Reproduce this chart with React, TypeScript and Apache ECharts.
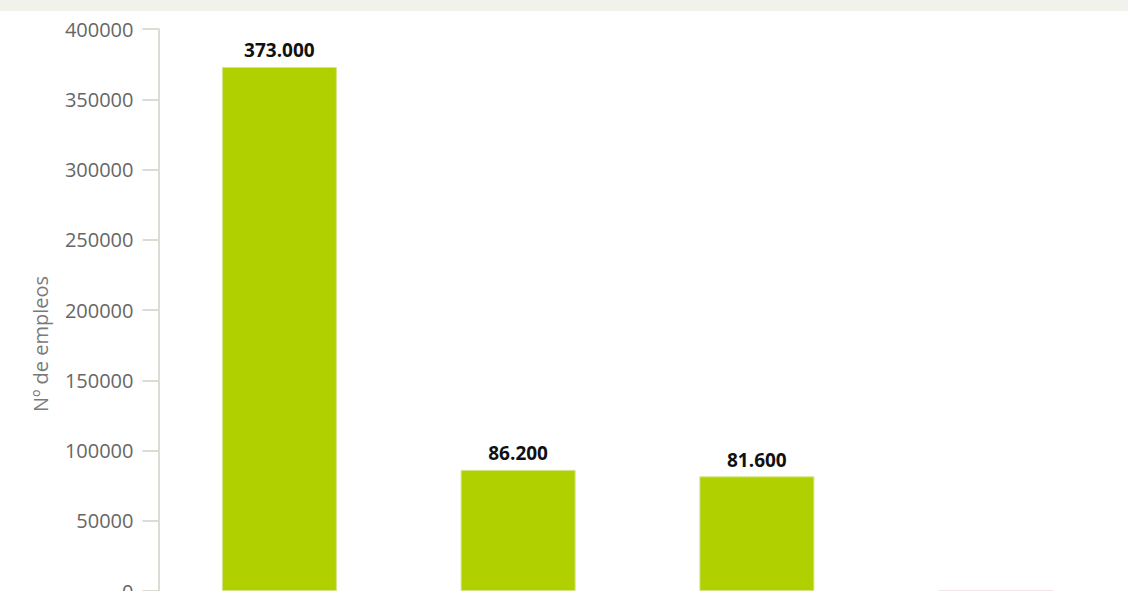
import React, { useEffect, useRef } from "react";
import * as echarts from "echarts";

const categories = ["A", "B", "C", "D"];
const values = [373000, 86200, 81600, 700];
const valueLabels = ["373.000", "86.200", "81.600", ""];
const barColors = ["#b1d000", "#b1d000", "#b1d000", "#f6eeee"];
const yAxisName = "Nº de empleos";

export default function App() {
  const ref = useRef<HTMLDivElement>(null);
  useEffect(() => {
    if (!ref.current) return;
    const chart = echarts.init(ref.current, undefined, { renderer: "svg" });
    chart.setOption({
      animation: false,
      backgroundColor: "#ffffff",
      graphic: [
        { type: "rect", left: 0, top: 0, shape: { width: 1128, height: 11 }, style: { fill: "#f2f2ec" } },
        {
          type: "text",
          x: 40,
          y: 344,
          rotation: Math.PI / 2,
          style: {
            text: yAxisName,
            fill: "#7a7a7a",
            fontSize: 20,
            fontFamily: "Open Sans",
            textAlign: "center",
            textVerticalAlign: "middle",
          },
        },
      ],
      grid: { left: 160, right: 13, top: 29, bottom: 0, containLabel: false, outerBoundsMode: "none" },
      xAxis: {
        type: "category",
        data: categories,
        axisLine: { show: false },
        axisTick: { show: false },
        axisLabel: { show: false },
      },
      yAxis: {
        type: "value",
        min: 0,
        max: 400000,
        interval: 50000,
        offset: 1.5,
        axisLine: { show: true, lineStyle: { color: "#dcdcd4", width: 2 } },
        axisTick: { show: true, inside: false, length: 16, lineStyle: { color: "#dcdcd4", width: 2 } },
        axisLabel: {
          color: "#666666",
          fontSize: 20,
          fontFamily: "Open Sans",
          margin: 25,
          formatter: (v: number) => String(v),
        },
        splitLine: { show: false },
      },
      series: [
        {
          type: "bar",
          barWidth: 115,
          data: values.map((v, i) => ({
            value: v,
            itemStyle: { color: barColors[i], borderColor: i < 3 ? "#d2e48a" : "#f3e8e8", borderWidth: 1 },
            label: {
              show: valueLabels[i] !== "",
              position: "top",
              distance: 7,
              formatter: valueLabels[i],
              color: "#111111",
              fontWeight: "bold",
              fontSize: 19,
              fontFamily: "Open Sans",
            },
          })),
        },
      ],
    });
    return () => chart.dispose();
  }, []);
  return <div ref={ref} style={{ position: "fixed", left: 0, top: 0, width: 1128, height: 591 }} />;
}
